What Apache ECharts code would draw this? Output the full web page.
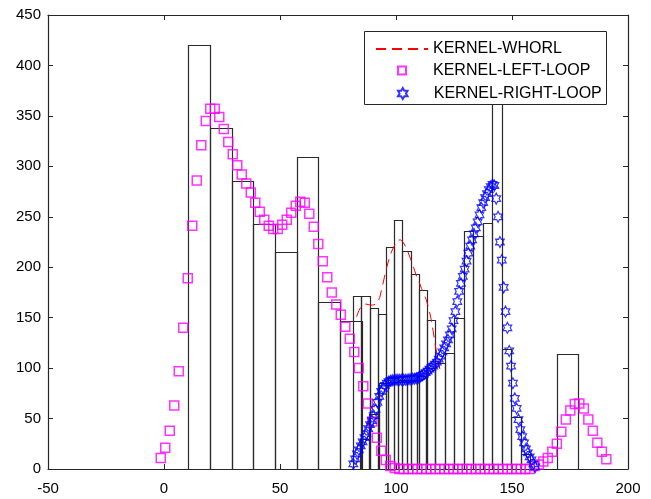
<!DOCTYPE html>
<html><head><meta charset="utf-8">
<script src="https://cdn.jsdelivr.net/npm/echarts@6/dist/echarts.min.js"></script>
<style>html,body{margin:0;padding:0;background:#fff}#c{width:651px;height:499px}</style>
</head><body><div id="c"></div>
<script>
// ---- tick labels ----
const xTickValues = [-50, 0, 50, 100, 150, 200];
const yTickValues = [0, 50, 100, 150, 200, 250, 300, 350, 400, 450];

// ---- histogram bars (bin start, bin end, count) ----
const binStart = [10.5, 19.8, 29.2, 38.5, 47.8, 57.2, 66.5, 75.8, 169.2,
  81.6, 85.1, 88.7, 92.2, 95.7, 99.3, 102.8, 106.3, 109.8, 113.4,
  84.4, 88.5, 92.6, 96.7, 100.7, 104.8, 108.9, 113.0, 117.0, 121.1, 125.2, 129.3, 133.4, 137.4, 141.5, 145.6, 149.7, 153.7];
const binEnd = [19.8, 29.2, 38.5, 47.8, 57.2, 66.5, 75.8, 85.2, 178.5,
  85.1, 88.7, 92.2, 95.7, 99.3, 102.8, 106.3, 109.8, 113.4, 116.9,
  88.5, 92.6, 96.7, 100.7, 104.8, 108.9, 113.0, 117.0, 121.1, 125.2, 129.3, 133.4, 137.4, 141.5, 145.6, 149.7, 153.7, 157.8];
const binCount = [420, 338, 285, 243, 215, 309, 166, 147, 114,
  171, 171, 160, 154, 220, 247, 216, 193, 177, 148,
  30, 55, 85, 90, 88, 88, 92, 100, 105, 115, 150, 236, 231, 244, 400, 119, 52, 15];

// ---- KERNEL-WHORL ----
const whorlX = [83, 84, 85, 86, 87, 88, 89, 90, 91, 92, 93, 94, 95, 96, 97, 98, 99, 100, 101, 102, 103, 104, 105, 106, 107, 108, 109, 110, 111, 112, 113, 114, 115, 116, 117, 118, 119];
const whorlY = [151, 157, 161, 163, 163.5, 163, 162.5, 162.5, 163, 165, 170, 180, 190, 200, 208, 215, 220, 224, 227, 227, 225, 221, 216, 210, 204, 197, 190, 185, 179, 174, 168, 160, 150, 137, 122, 109, 98];

// ---- KERNEL-LEFT-LOOP ----
const leftX = [-1.4, 0.54, 2.48, 4.42, 6.36, 8.3, 10.24, 12.18, 14.12, 16.06, 18.0, 19.94, 21.88, 23.82, 25.76, 27.7, 29.64, 31.58, 33.52, 35.46,
  37.4, 39.34, 41.28, 43.22, 45.16, 47.1, 49.04, 50.98, 52.92, 54.86, 56.8, 58.74, 60.68, 62.62, 64.56, 66.5, 68.44, 70.38, 72.32, 74.26,
  76.2, 78.14, 80.08, 82.02, 83.96, 85.9, 87.84, 89.78, 91.72, 93.66, 95.6, 97.54, 99.48, 101.42, 103.36, 105.3, 107.24, 109.18, 111.12, 113.06,
  115.0, 116.94, 118.88, 120.82, 122.76, 124.7, 126.64, 128.58, 130.52, 132.46, 134.4, 136.34, 138.28, 140.22, 142.16, 144.1, 146.04, 147.98, 149.92, 151.86,
  153.8, 155.74, 157.68, 159.62, 161.56, 163.5, 165.44, 167.38, 169.32, 171.26, 173.2, 175.14, 177.08, 179.02, 180.96, 182.9, 184.84, 186.78, 188.72, 190.66];
const leftY = [11, 21, 38, 63, 97, 140, 189, 241, 286, 321, 345, 357, 357, 349, 337, 324, 312, 301, 292, 283,
  274, 264, 255, 247, 241, 238, 238, 242, 247, 254, 261, 265, 264, 253, 240, 223, 206, 190, 175, 163,
  153, 141, 129, 116, 100, 82, 65, 47, 31, 18, 9, 3, 1, 0, 0, 0, 0, 0, 0, 0,
  0, 0, 0, 0, 0, 0, 0, 0, 0, 0, 0, 0, 0, 0, 0, 0, 0, 0, 0, 0,
  0, 0, 0, 3, 4.5, 7.5, 11, 17, 25, 37, 49, 58, 64.5, 65, 60, 49, 38, 26, 17, 9.6];

// ---- KERNEL-RIGHT-LOOP ----
const rightX = [81.6, 82.4, 83.2, 84.0, 84.8, 85.6, 86.4, 87.2, 88.0, 88.8, 89.6, 90.4, 91.2, 92.0, 92.8, 93.6, 94.4, 95.2, 96.0, 96.8,
  97.6, 98.4, 99.2, 100.0, 100.8, 101.6, 102.4, 103.2, 104.0, 104.8, 105.6, 106.4, 107.2, 108.0, 108.8, 109.6, 110.4, 111.2, 112.0, 112.8,
  113.6, 114.4, 115.2, 116.0, 116.8, 117.6, 118.4, 119.2, 120.0, 120.8, 121.6, 122.4, 123.2, 124.0, 124.8, 125.6, 126.4, 127.2, 128.0, 128.8,
  129.6, 130.4, 131.2, 132.0, 132.8, 133.6, 134.4, 135.2, 136.0, 136.8, 137.6, 138.4, 139.2, 140.0, 140.8, 141.6, 142.4, 143.2, 144.0, 144.8,
  145.6, 146.4, 147.2, 148.0, 148.8, 149.6, 150.4, 151.2, 152.0, 152.8, 153.6, 154.4, 155.2, 156.0, 156.8, 157.6, 158.4, 159.2, 160.0];
const rightY = [5, 10, 15, 19, 23, 27, 31, 35, 40, 44, 48, 53, 59, 66, 72, 77, 80, 83, 85, 86.5,
  87.5, 88, 88, 88.5, 88.5, 88.5, 88.5, 88.5, 88.5, 88.5, 89, 89, 89.5, 89.5, 90, 90.5, 91.5, 92.5, 94, 95.5,
  97, 99, 100.5, 102, 104, 106, 109, 112, 116, 120, 124, 128, 133, 139, 147, 156, 166, 176, 184, 191,
  198, 206, 214, 221, 227, 233, 239, 245, 252, 259, 264, 269, 273, 277, 280, 282, 281, 268, 250, 225,
  207, 180, 156, 140, 117, 102, 85, 70, 60, 49, 39, 32, 26, 20, 16, 12, 9, 5, 2];

const zip = (a, b) => a.map((v, i) => [v, b[i]]);
const bars = binStart.map((s, i) => [s, binEnd[i], binCount[i]]);

const FONT = "'Liberation Sans', Arial, sans-serif";
const AX = '#262626';
const squarePath = 'path://M0,0L10,0L10,10L0,10Z';
const hexPath = 'path://M0,-10L2.887,-5L8.66,-5L5.774,0L8.66,5L2.887,5L0,10L-2.887,5L-8.66,5L-5.774,0L-8.66,-5L-2.887,-5Z';

const chart = echarts.init(document.getElementById('c'), null, {renderer: 'canvas'});
function axis(extra) {
  return Object.assign({
    type: 'value',
    axisLine: {show: true, onZero: false, lineStyle: {color: AX, width: 1.2}},
    axisTick: {show: true, inside: true, length: 5, lineStyle: {color: AX, width: 1}},
    splitLine: {show: false}
  }, extra);
}
function legend(extra) {
  return Object.assign({
    orient: 'vertical', left: 375, itemWidth: 52, itemGap: 0, padding: 0, itemTextGap: 6,
    selectedMode: false, z: 60,
    textStyle: {fontFamily: FONT, fontSize: 16, color: '#000'}
  }, extra);
}
chart.setOption({
  animation: false,
  backgroundColor: '#fff',
  grid: {left: 48, right: 23, top: 15, bottom: 30, containLabel: false},
  xAxis: [
    axis({position: 'bottom', min: -50, max: 200, interval: 50,
      axisLabel: {fontFamily: FONT, fontSize: 15, color: '#000', margin: 12,
        formatter: v => xTickValues.includes(v) ? String(v) : ''}}),
    axis({position: 'top', min: -50, max: 200, interval: 50, axisLabel: {show: false}})
  ],
  yAxis: [
    axis({position: 'left', min: 0, max: 450, interval: 50,
      axisLabel: {fontFamily: FONT, fontSize: 15, color: '#000', margin: 7,
        formatter: v => yTickValues.includes(v) ? String(v) : ''}}),
    axis({position: 'right', min: 0, max: 450, interval: 50, axisLabel: {show: false}})
  ],
  legend: [
    legend({top: 41, itemHeight: 14, itemStyle: {opacity: 0}, data: ['KERNEL-WHORL']}),
    legend({left: 397, top: 62.5, itemHeight: 8, data: [{name: 'KERNEL-LEFT-LOOP', icon: squarePath}]}),
    legend({left: 397, top: 85.5, itemHeight: 11, data: ['KERNEL-RIGHT-LOOP']})
  ],
  graphic: [{
    type: 'rect', z: 50, silent: true,
    shape: {x: 364.5, y: 31.5, width: 242, height: 73},
    style: {fill: '#fff', stroke: AX, lineWidth: 1}
  }],
  series: [
    {
      type: 'custom', name: 'hist', data: bars, encode: {x: [0, 1], y: 2}, z: 2,
      renderItem: (params, api) => {
        const p0 = api.coord([api.value(0), 0]);
        const p1 = api.coord([api.value(1), api.value(2)]);
        return {type: 'rect',
          shape: {x: Math.round(p0[0]) + 0.5, y: Math.round(p1[1]) + 0.5,
                  width: Math.round(p1[0]) - Math.round(p0[0]), height: Math.round(p0[1]) - Math.round(p1[1])},
          style: {fill: 'none', stroke: '#2a2a2a', lineWidth: 1.2}};
      }
    },
    {
      type: 'line', name: 'KERNEL-WHORL', data: zip(whorlX, whorlY), showSymbol: false, symbol: 'none', z: 3,
      lineStyle: {color: '#ff0000', width: 1, type: [10, 6]}, itemStyle: {color: '#ff0000'}
    },
    {
      type: 'scatter', name: 'KERNEL-LEFT-LOOP', data: zip(leftX, leftY), symbol: 'rect', symbolSize: 9, clip: false, z: 4,
      itemStyle: {color: 'rgba(0,0,0,0)', borderColor: '#ff00ff', borderWidth: 1.5}
    },
    {
      type: 'scatter', name: 'KERNEL-RIGHT-LOOP', data: zip(rightX, rightY), symbol: hexPath, symbolSize: [10, 11], symbolKeepAspect: true, clip: false, z: 5,
      itemStyle: {color: 'rgba(0,0,0,0)', borderColor: '#0000ff', borderWidth: 1.2}
    }
  ]
});
</script></body></html>
